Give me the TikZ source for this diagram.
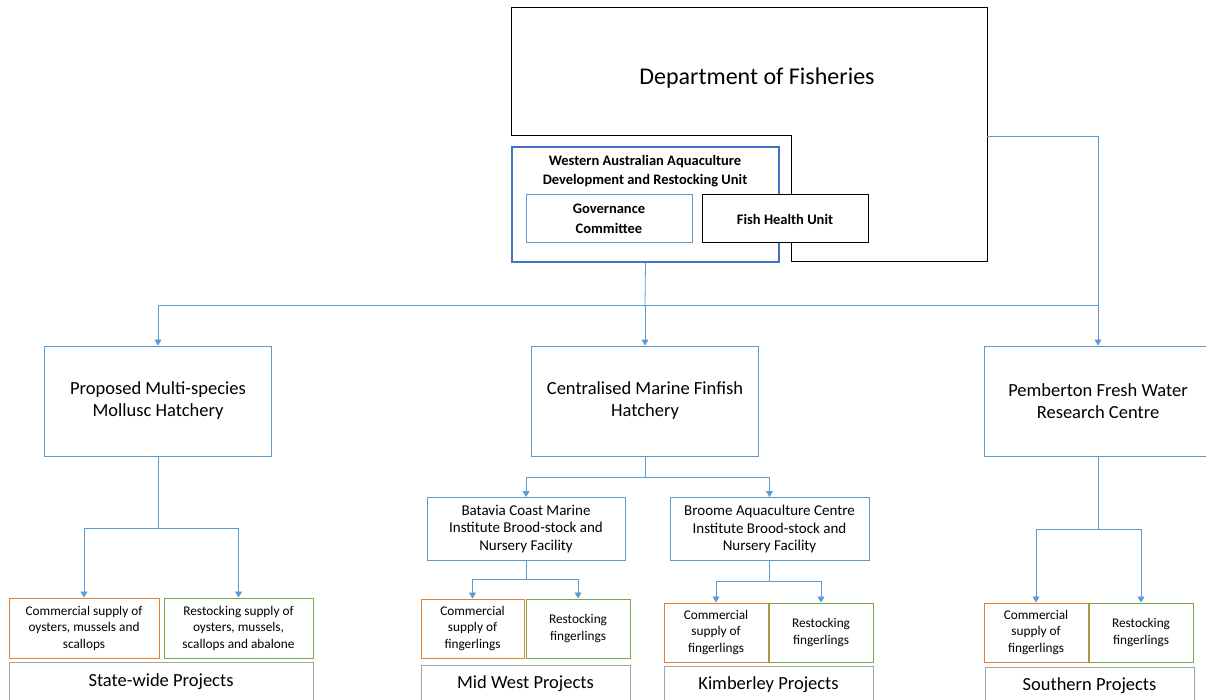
\documentclass[tikz,border=0pt]{standalone}
\usepackage{fontspec}
\setmainfont{Carlito}
\usetikzlibrary{arrows.meta}
\definecolor{cblue}{HTML}{5B9BD5}
\definecolor{dblue}{HTML}{4472C4}
\definecolor{corange}{HTML}{ED7D31}
\definecolor{cgreen}{HTML}{70AD47}
\definecolor{cgrey}{HTML}{A5A5A5}
\tikzset{
  box/.style={draw, rectangle, inner sep=0pt, align=center, line width=1pt},
  bluebox/.style={box, draw=cblue},
  orbox/.style={box, draw=corange},
  grbox/.style={box, draw=cgreen},
  gybox/.style={box, draw=cgrey},
  blkbox/.style={box, draw=black, fill=white},
  line/.style={draw=cblue, line width=0.8pt},
  conn/.style={line, -{Triangle[width=7pt,length=6pt]}},
  big/.style={font=\fontsize{18.5}{22}\selectfont},
  mid/.style={font=\fontsize{15}{17.5}\selectfont},
  sml/.style={font=\fontsize{13.3}{16.5}\selectfont},
  bld/.style={font=\bfseries\fontsize{14.5}{19.5}\selectfont},
}
\begin{document}
\begin{tikzpicture}[x=1pt,y=-1pt]
\useasboundingbox (0,0) rectangle (1206,700);
% Department of Fisheries (L-shaped outline)
\draw[line width=1pt] (511,8) -- (987,8) -- (987,262) -- (791,262) -- (791,136) -- (511,136) -- cycle;
\node[inner sep=0pt, font=\fontsize{24}{28}\selectfont] (dept) at (757,78) {Department of Fisheries};
\coordinate (deptR) at (987,136);
% WA unit
\node[box, draw=dblue, fill=white, line width=1.1pt, minimum width=267pt, minimum height=115pt] (wa) at (645.5,204.5) {};
\node[bld, inner sep=0pt, align=center] (watext) at (645,171) {Western Australian Aquaculture\\Development and Restocking Unit};
\node[bluebox, bld, minimum width=166pt, minimum height=48pt] (gov) at (609,219) {Governance\\Committee};
\node[blkbox, bld, minimum width=166pt, minimum height=48pt] (fish) at (785,219) {Fish Health Unit};
% second level
\node[bluebox, big, minimum width=227pt, minimum height=110pt] (prop) at (158,401) {\raisebox{-2pt}{\parbox{220pt}{\centering Proposed Multi-species\\Mollusc Hatchery}}};
\node[bluebox, big, minimum width=227pt, minimum height=110pt] (cent) at (645,401) {\raisebox{-2pt}{\parbox{220pt}{\centering Centralised Marine Finfish\\Hatchery}}};
\node[bluebox, big, minimum width=227pt, minimum height=110pt] (pem) at (1098,401) {\raisebox{-2pt}{\parbox{220pt}{\centering Pemberton Fresh Water\\Research Centre}}};
% third level (centralised)
\node[bluebox, mid, minimum width=198pt, minimum height=63pt] (bat) at (526,529) {Batavia Coast Marine\\Institute Brood-stock and\\Nursery Facility};
\node[bluebox, mid, minimum width=199pt, minimum height=63pt] (bro) at (769.5,529) {Broome Aquaculture Centre\\Institute Brood-stock and\\Nursery Facility};
% leaves
\node[orbox, sml, minimum width=150pt, minimum height=60pt] (c1) at (84,628) {Commercial supply of\\oysters, mussels and\\scallops};
\node[grbox, sml, minimum width=149pt, minimum height=60pt] (r1) at (238.5,628) {Restocking supply of\\oysters, mussels,\\scallops and abalone};
\node[gybox, big, minimum width=304pt, minimum height=40pt] (p1) at (161,682) {State-wide Projects};

\node[orbox, sml, minimum width=103pt, minimum height=59pt] (c2) at (472.5,628.5) {Commercial\\supply of\\fingerlings};
\node[grbox, sml, minimum width=104pt, minimum height=59pt] (r2) at (578,628.5) {Restocking\\fingerlings};
\node[gybox, big, minimum width=209pt, minimum height=38pt] (p2) at (525.5,684) {Mid West Projects};

\node[orbox, sml, minimum width=104pt, minimum height=59pt] (c3) at (716,632.5) {Commercial\\supply of\\fingerlings};
\node[grbox, sml, minimum width=104pt, minimum height=59pt] (r3) at (821,632.5) {Restocking\\fingerlings};
\node[gybox, big, minimum width=209pt, minimum height=38pt] (p3) at (768.5,685) {Kimberley Projects};

\node[orbox, sml, minimum width=104pt, minimum height=59pt] (c4) at (1036,632.5) {Commercial\\supply of\\fingerlings};
\node[grbox, sml, minimum width=104pt, minimum height=59pt] (r4) at (1141,632.5) {Restocking\\fingerlings};
\node[gybox, big, minimum width=209pt, minimum height=38pt] (p4) at (1089.5,686) {Southern Projects};

% connectors
\coordinate (hub) at (645,305);
\draw[conn] (deptR) -| (pem.north);
\draw[line] (wa.south) -- (hub);
\draw[conn] (hub) -| (prop.north);
\draw[conn] (hub) -- (cent.north);
\draw[line] (hub) -- (hub -| pem.north);

\coordinate (h1) at (158,528);
\draw[line] (prop.south) -- (h1);
\draw[conn] (h1) -| (c1.north);
\draw[conn] (h1) -| (r1.north);

\coordinate (h2) at (645,477);
\draw[line] (cent.south) -- (h2);
\draw[conn] (h2) -| (bat.north);
\draw[conn] (h2) -| (bro.north);

\coordinate (h3) at (526,579);
\draw[line] (bat.south) -- (h3);
\draw[conn] (h3) -| (c2.north);
\draw[conn] (h3) -| (r2.north);

\coordinate (h4) at (769.5,581);
\draw[line] (bro.south) -- (h4);
\draw[conn] (h4) -| (c3.north);
\draw[conn] (h4) -| (r3.north);

\coordinate (h5) at (1098,529);
\draw[line] (pem.south) -- (h5);
\draw[conn] (h5) -| (c4.north);
\draw[conn] (h5) -| (r4.north);
\end{tikzpicture}
\end{document}
